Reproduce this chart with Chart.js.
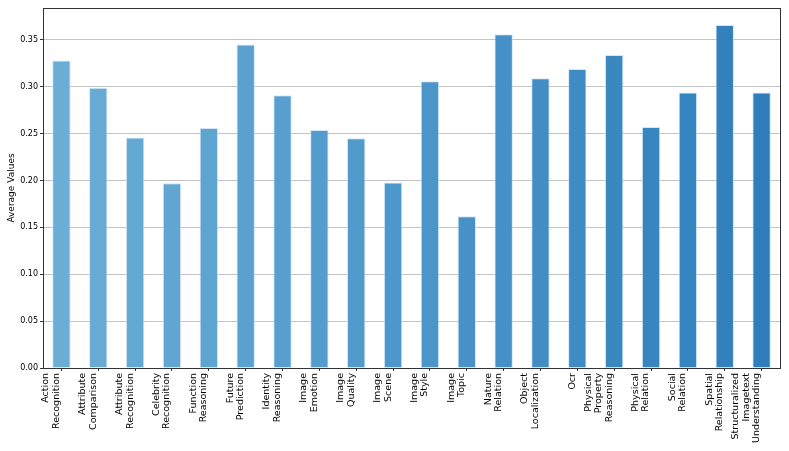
<!DOCTYPE html>
<html>
<head>
<meta charset="utf-8">
<script src="https://cdn.jsdelivr.net/npm/chart.js@4"></script>
<style>
  body { margin: 0; background: #fff; }
  #wrap { width: 789px; height: 451px; }
</style>
</head>
<body>
<div id="wrap"><canvas id="myChart" width="789" height="451"></canvas></div>
<script>
// categories (multi-line labels, as in the picture)
var categories = [
  ["Action", "Recognition"], ["Attribute", "Comparison"], ["Attribute", "Recognition"],
  ["Celebrity", "Recognition"], ["Function", "Reasoning"], ["Future", "Prediction"],
  ["Identity", "Reasoning"], ["Image", "Emotion"], ["Image", "Quality"],
  ["Image", "Scene"], ["Image", "Style"], ["Image", "Topic"],
  ["Nature", "Relation"], ["Object", "Localization"], ["Ocr"],
  ["Physical", "Property", "Reasoning"], ["Physical", "Relation"], ["Social", "Relation"],
  ["Spatial", "Relationship"], ["Structuralized", "Imagetext", "Understanding"]
];
// average values
var averageValues = [
  0.328, 0.299, 0.246, 0.197, 0.256, 0.345, 0.291, 0.254, 0.245, 0.198,
  0.306, 0.162, 0.356, 0.309, 0.319, 0.334, 0.257, 0.294, 0.366, 0.294
];
var yTicks = [0, 0.05, 0.10, 0.15, 0.20, 0.25, 0.30, 0.35];

// blue shades from light to dark, one per bar
function barColor(i, n) {
  var a = [106, 174, 214], b = [47, 126, 188];
  var t = n > 1 ? i / (n - 1) : 0;
  var c = a.map(function (v, k) { return Math.round(v + (b[k] - v) * t); });
  return 'rgb(' + c.join(',') + ')';
}
var bgd = averageValues.map(function (v, i) { return barColor(i, averageValues.length); });

// pad the labels in front so the last line always sits next to the tick
var maxLines = Math.max.apply(null, categories.map(function (c) { return c.length; }));
var labels = categories.map(function (c) {
  var pad = [];
  for (var i = c.length; i < maxLines; i++) pad.push('');
  return pad.concat(c);
});
var lineH = 10.5;

// frame around the plot area (top and right sides too)
var frame = {
  id: 'frame',
  afterDraw: function (chart) {
    var a = chart.chartArea, ctx = chart.ctx;
    ctx.save();
    ctx.strokeStyle = '#333';
    ctx.lineWidth = 1;
    ctx.strokeRect(Math.round(a.left) + 0.5, Math.round(a.top) + 0.5,
                   Math.round(a.right - a.left), Math.round(a.bottom - a.top));
    ctx.restore();
  }
};

var ctx = document.getElementById('myChart').getContext('2d');
var chart = new Chart(ctx, {
  type: 'bar',
  data: {
    labels: labels,
    datasets: [{
      label: 'Average Values',
      data: averageValues,
      backgroundColor: bgd,
      borderColor: 'rgba(200,225,245,0.8)',
      borderWidth: 1,
      categoryPercentage: 1.0,
      barPercentage: 0.5
    }]
  },
  options: {
    responsive: false,
    animation: false,
    layout: { padding: { top: 8, right: 9, left: 0, bottom: 0 } },
    plugins: { legend: { display: false }, tooltip: { enabled: false } },
    scales: {
      x: {
        z: 1,
        grid: { offset: false, drawOnChartArea: false, drawTicks: true, tickLength: 3, tickColor: '#333' },
        border: { color: '#333', width: 1 },
        ticks: {
          color: '#000',
          font: { family: 'DejaVu Sans', size: 9.5, lineHeight: lineH / 9.5 },
          minRotation: 90, maxRotation: 90,
          autoSkip: false, padding: 2,
          labelOffset: -(maxLines - 1) * lineH - 5
        },
        afterFit: function (s) { s.height = 83; s.paddingLeft = 0; s.paddingRight = 0; }
      },
      y: {
        z: 1,
        min: 0, max: 0.384,
        afterBuildTicks: function (s) { s.ticks = yTicks.map(function (v) { return { value: v }; }); },
        grid: { color: 'rgba(176,176,176,0.75)', lineWidth: 1, tickLength: 3, tickColor: '#333' },
        border: { color: '#333', width: 1 },
        ticks: {
          color: '#000',
          font: { family: 'DejaVu Sans', size: 8 },
          padding: 2,
          callback: function (v) { return Number(v).toFixed(2); }
        },
        title: {
          display: true, text: 'Average Values', color: '#000',
          font: { family: 'DejaVu Sans', size: 9 }, padding: { top: 6.5, bottom: 0 }
        },
        afterFit: function (s) { s.width = 43; s.paddingTop = 0; s.paddingBottom = 0; }
      }
    }
  },
  plugins: [frame]
});
</script>
</body>
</html>
